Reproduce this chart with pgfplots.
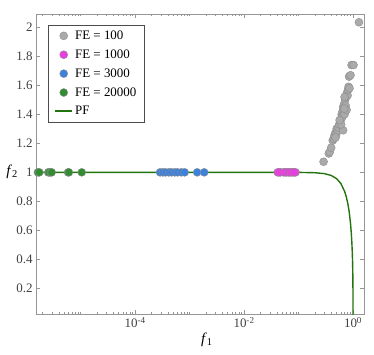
\documentclass[border=0pt]{standalone}
\usepackage{fontspec}
\setmainfont{Liberation Serif}
\usepackage{pgfplots}
\pgfplotsset{compat=1.18}

\definecolor{feGray}{RGB}{170,170,170}
\definecolor{feMag}{RGB}{235,60,225}
\definecolor{feBlue}{RGB}{60,130,220}
\definecolor{feGreen}{RGB}{50,140,50}
\definecolor{pfGreen}{RGB}{35,115,15}
\definecolor{frame}{RGB}{150,150,150}
\newcommand{\chartfont}{\fontsize{13}{15}\selectfont}

\begin{document}
\begin{tikzpicture}
\begin{axis}[
  scale only axis,
  width=328bp, height=300bp,
  xmode=log,
  xmin=1.52e-6, xmax=1.59,
  ymin=0.023, ymax=2.092,
  /pgf/number format/assume math mode=true,
  xtick={1e-4,1e-2,1},
  xticklabels={10\textsuperscript{-4},10\textsuperscript{-2},10\textsuperscript{0}},
  minor xtick={2e-6,3e-6,4e-6,5e-6,6e-6,7e-6,8e-6,9e-6,1e-5,
    2e-5,3e-5,4e-5,5e-5,6e-5,7e-5,8e-5,9e-5,
    2e-4,3e-4,4e-4,5e-4,6e-4,7e-4,8e-4,9e-4,1e-3,
    2e-3,3e-3,4e-3,5e-3,6e-3,7e-3,8e-3,9e-3,
    2e-2,3e-2,4e-2,5e-2,6e-2,7e-2,8e-2,9e-2,1e-1,
    0.2,0.3,0.4,0.5,0.6,0.7,0.8,0.9},
  ytick={0.2,0.4,0.6,0.8,1,1.2,1.4,1.6,1.8,2},
  major tick length=4bp, minor tick length=2bp,
  tick style={frame, line width=0.5pt},
  axis line style={frame, line width=0.8pt},
  tick label style={text=black!75, font=\chartfont},
  xlabel={\textit{f}\textsubscript{1}},
  ylabel={\textit{f}\textsubscript{2}},
  xlabel style={at={(rel axis cs:0.521,-0.087)}, anchor=center, font=\fontsize{15}{16}\selectfont},
  ylabel style={at={(rel axis cs:-0.073,0.473)}, anchor=center, rotate=-90, font=\fontsize{15}{16}\selectfont},
  legend cell align=left,
  legend style={at={(0.037,0.963)}, anchor=north west, draw=black!70,
    font=\chartfont, row sep=4.8bp, inner xsep=6bp, inner ysep=3.5bp},
]
% FE = 100
\addplot[only marks, mark=*, mark size=4bp, draw=black!45, fill=feGray, line width=0.4pt,
  legend image post style={draw=black!45, fill=feGray, mark size=4bp}] coordinates {
 (0.288,1.073) (0.359,1.13) (0.374,1.14) (0.398,1.17) (0.424,1.22) (0.442,1.23)
 (0.452,1.25) (0.471,1.27) (0.491,1.26) (0.501,1.30) (0.523,1.29) (0.534,1.31)
 (0.556,1.33) (0.580,1.35) (0.658,1.29) (0.605,1.37) (0.618,1.40) (0.631,1.38)
 (0.644,1.42) (0.658,1.45) (0.672,1.43) (0.686,1.47) (0.700,1.40) (0.716,1.50)
 (0.731,1.46) (0.746,1.52) (0.762,1.43) (0.778,1.55) (0.794,1.53) (0.811,1.57)
 (0.828,1.59) (0.863,1.58) (0.846,1.66) (0.901,1.67) (0.939,1.74) (1.021,1.74)
 (1.285,2.035) (0.605,1.33) (0.568,1.36) (0.700,1.52) (0.478,1.24) (0.690,1.44)
};
\addlegendentry{FE = 100}
% FE = 1000
\addplot[only marks, mark=*, mark size=4bp, draw=black!45, fill=feMag, line width=0.4pt,
  legend image post style={draw=black!45, fill=feMag, mark size=4bp}] coordinates {
 (0.0415,1) (0.0471,1) (0.0534,1) (0.0605,1) (0.0686,1) (0.0778,1) (0.0882,1)
 (0.0440,1) (0.0570,1) (0.0650,1) (0.0730,1) (0.0830,1)
};
\addlegendentry{FE = 1000}
% FE = 3000
\addplot[only marks, mark=*, mark size=4bp, draw=black!45, fill=feBlue, line width=0.4pt,
  legend image post style={draw=black!45, fill=feBlue, mark size=4bp}] coordinates {
 (2.88e-4,1) (3.24e-4,1) (3.63e-4,1) (4.17e-4,1) (4.68e-4,1) (5.37e-4,1)
 (6.03e-4,1) (7.08e-4,1) (8.13e-4,1) (1.38e-3,1) (1.86e-3,1)
};
\addlegendentry{FE = 3000}
% FE = 20000
\addplot[only marks, mark=*, mark size=4bp, draw=black!45, fill=feGreen, line width=0.4pt,
  legend image post style={draw=black!45, fill=feGreen, mark size=4bp}] coordinates {
 (1.65e-6,1) (1.75e-6,1) (2.55e-6,1) (2.65e-6,1) (2.85e-6,1) (2.95e-6,1)
 (5.9e-6,1) (6.1e-6,1) (1.05e-5,1)
};
\addlegendentry{FE = 20000}
% Pareto front
\addplot[pfGreen, line width=1.4pt, mark=none,
  legend image post style={draw=pfGreen, line width=1.8pt}] coordinates {
 (1e-6,1) (1e-2,1) (0.05,0.99996) (0.1,0.9997) (0.2,0.9973) (0.3,0.991)
 (0.4,0.978) (0.5,0.9565) (0.6,0.922) (0.7,0.869) (0.75,0.833) (0.8,0.787)
 (0.85,0.728) (0.9,0.647) (0.93,0.580) (0.95,0.522) (0.97,0.444) (0.98,0.389)
 (0.99,0.310) (0.995,0.246) (0.999,0.144) (0.9999,0.067) (1,0)
};
\addlegendentry{PF}
\end{axis}
\path ([xshift=-36bp,yshift=-41bp]current axis.south west) rectangle ([xshift=10bp,yshift=14bp]current axis.north east);
\end{tikzpicture}
\end{document}
